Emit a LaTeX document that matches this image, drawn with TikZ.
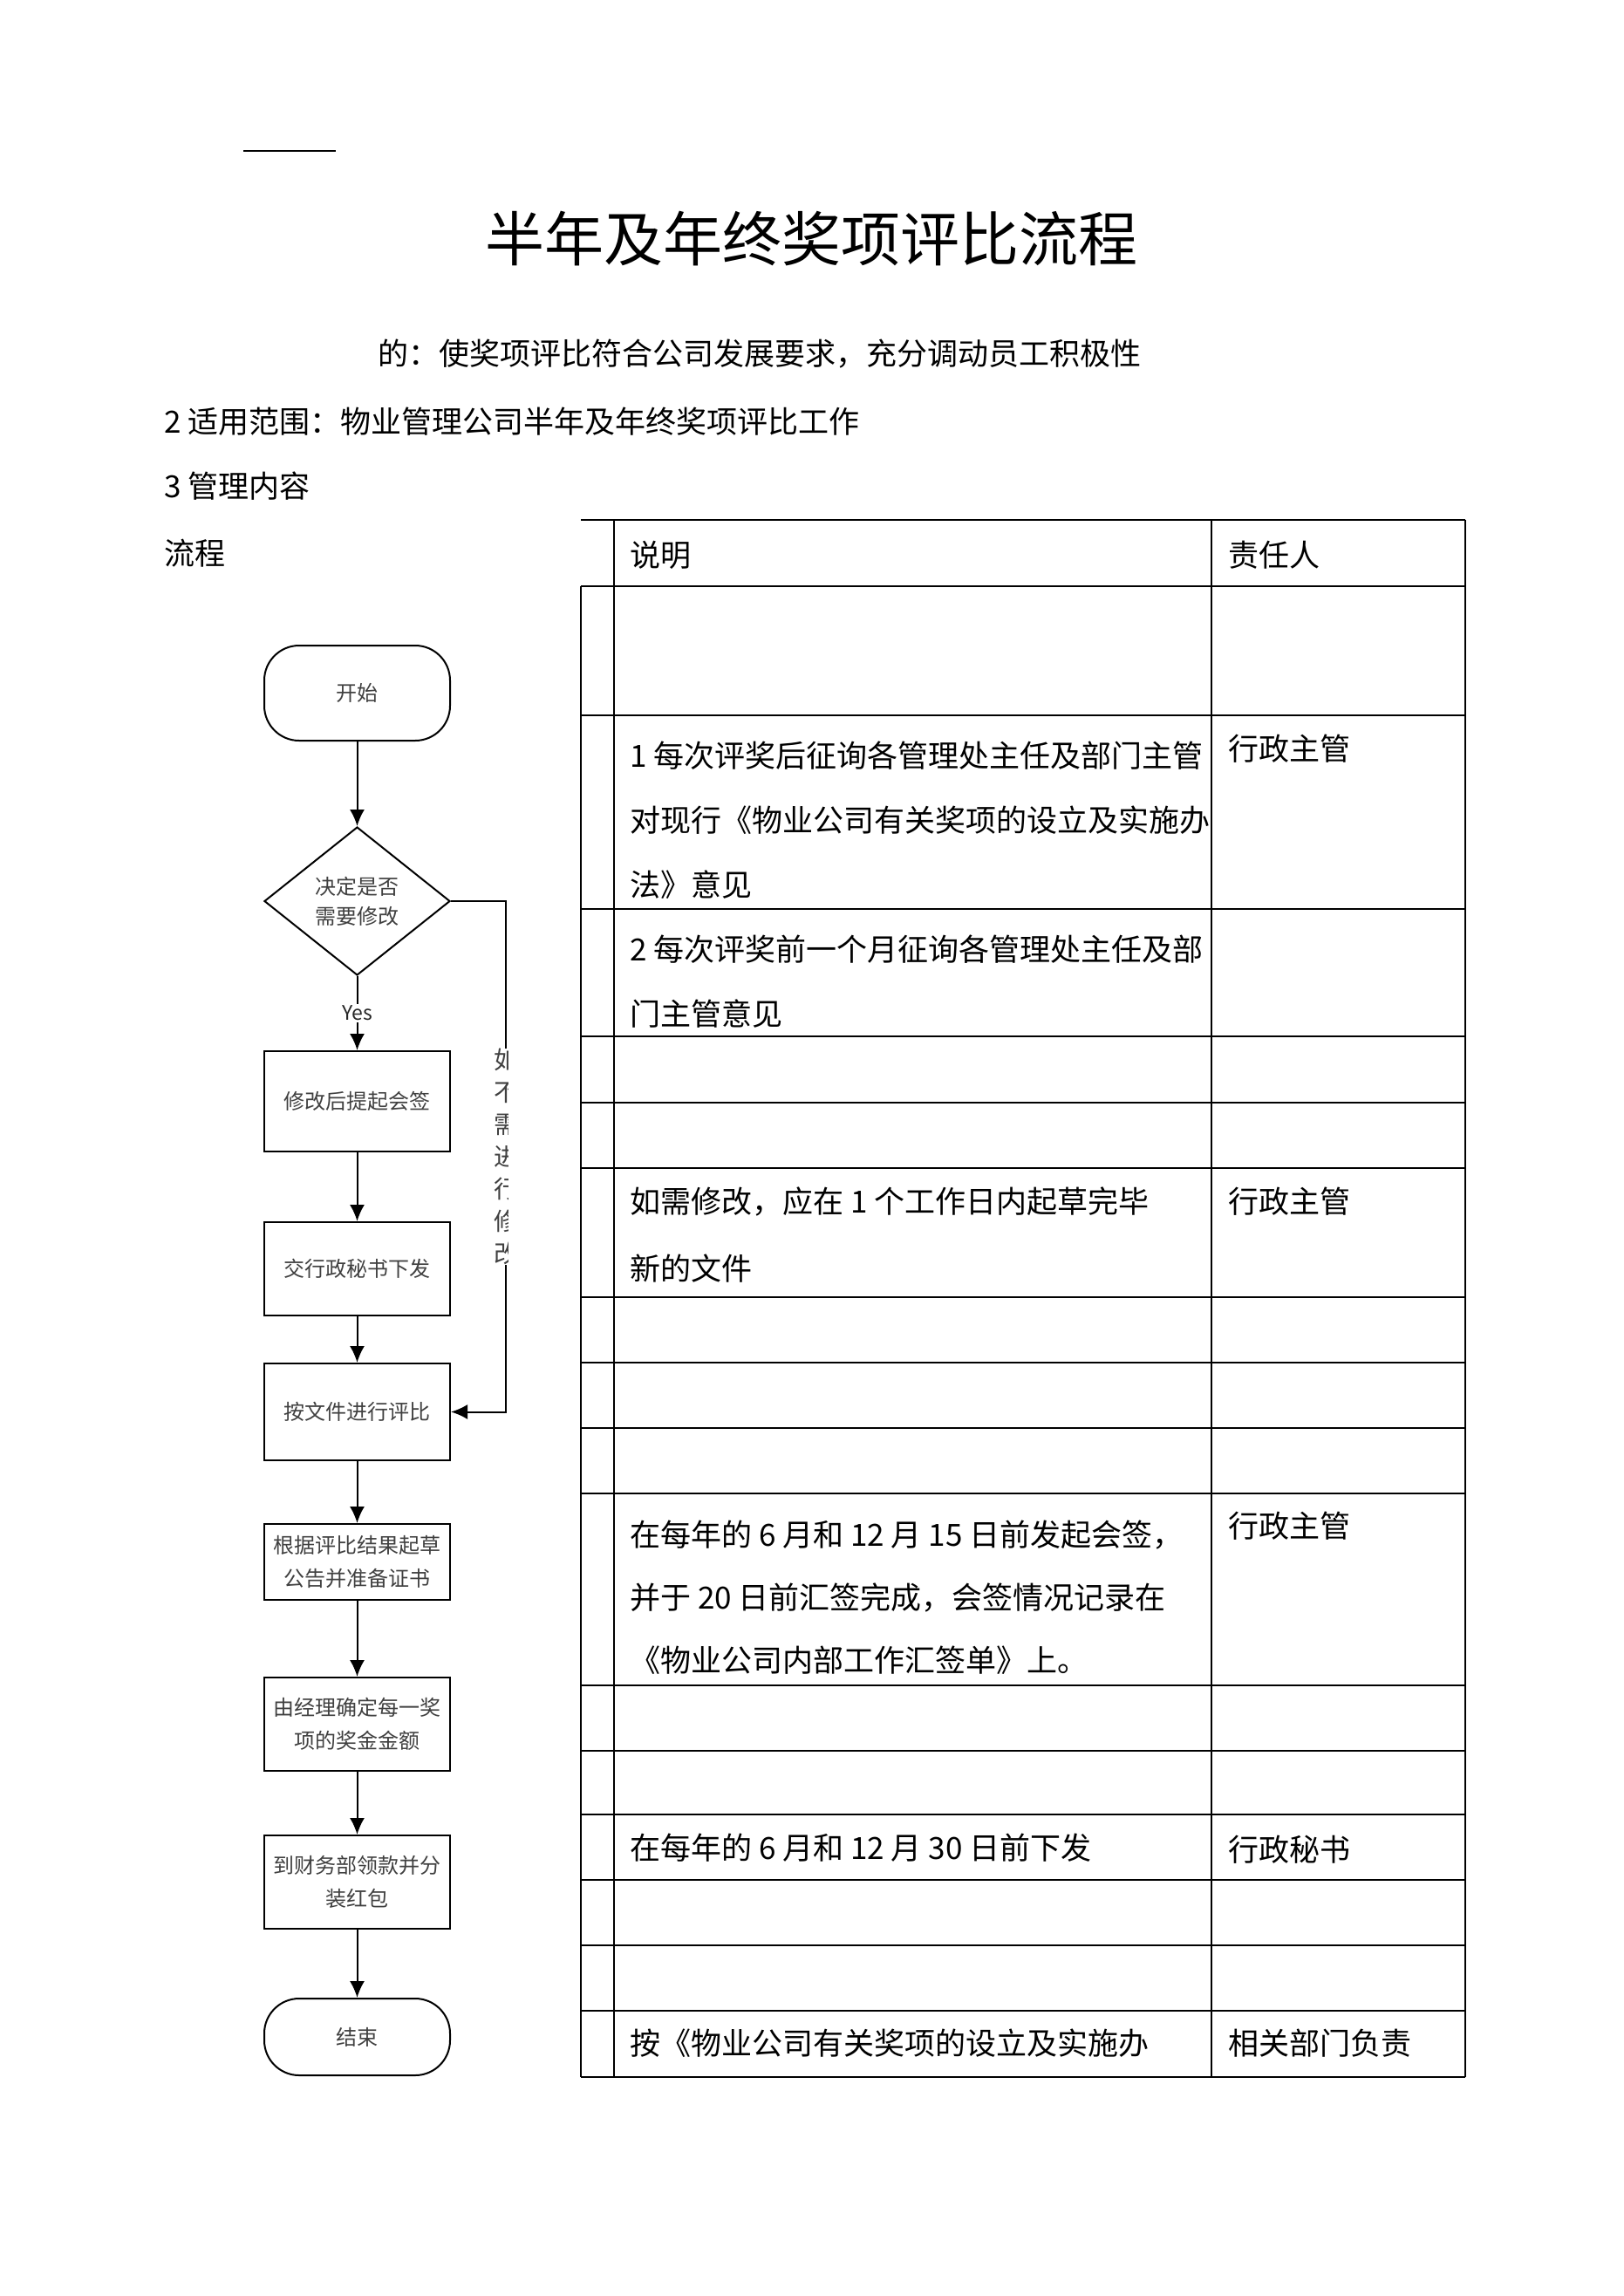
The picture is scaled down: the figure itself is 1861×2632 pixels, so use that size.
\documentclass[tikz,border=0pt]{standalone}
\usepackage{fontspec}
\setmainfont{Noto Sans CJK SC}
\usetikzlibrary{arrows.meta,shapes.geometric}
\begin{document}
\begin{tikzpicture}[x=1pt,y=-1pt,
  tline/.style={line width=1.8pt},
  fcbox/.style={draw, line width=2pt, minimum width=213pt, inner sep=0pt, align=center, text=black!75, font=\fontsize{24}{38}\selectfont},
  term/.style={fcbox, rounded corners=40pt},
  decbox/.style={fcbox, shape=diamond, minimum height=170pt, font=\fontsize{24}{34}\selectfont},
  arr/.style={line width=2pt, -{Latex[length=19pt,width=17pt]}},
  body/.style={anchor=west, inner sep=0pt, font=\fontsize{35}{35}\selectfont},
]
\fill[white] (0,0) rectangle (1861,2632);
\useasboundingbox (0,0) rectangle (1861,2632);

% header line and texts
\draw[line width=1.5pt] (279,173) -- (385,173);
\node[inner sep=0pt, font=\fontsize{68}{68}\selectfont] (title) at (930,274) {半年及年终奖项评比流程};
\node[body] (purpose) at (433,406) {的：使奖项评比符合公司发展要求，充分调动员工积极性};
\node[body] (scope2) at (188,483) {2 适用范围：物业管理公司半年及年终奖项评比工作};
\node[body] (s3) at (188,557) {3 管理内容};
\node[body] (lc) at (188,634) {流程};

% table
\foreach \yy in {596,672,820,1042,1188,1264,1339,1487,1562,1637,1712,1932,2007,2080,2155,2230,2305,2381}
  \draw[tline] (666,\yy) -- (1680,\yy);
\draw[tline] (666,672) -- (666,2381);
\draw[tline] (704,596) -- (704,2381);
\draw[tline] (1389,596) -- (1389,2381);
\draw[tline] (1680,596) -- (1680,2381);

\node[body] (h1) at (722,636) {说明};
\node[body] (h2) at (1408,636) {责任人};
\node[body] (r3a) at (722,866) {1 每次评奖后征询各管理处主任及部门主管};
\node[body] (r3b) at (722,940) {对现行《物业公司有关奖项的设立及实施办};
\node[body] (r3c) at (722,1014) {法》意见};
\node[body] (r3p) at (1408,858) {行政主管};
\node[body] (r4a) at (722,1088) {2 每次评奖前一个月征询各管理处主任及部};
\node[body] (r4b) at (722,1162) {门主管意见};
\node[body] (r7a) at (722,1377) {如需修改，应在 1 个工作日内起草完毕};
\node[body] (r7b) at (722,1454) {新的文件};
\node[body] (r7p) at (1408,1377) {行政主管};
\node[body] (r11a) at (722,1760) {在每年的 6 月和 12 月 15 日前发起会签，};
\node[body] (r11b) at (722,1831) {并于 20 日前汇签完成，会签情况记录在};
\node[body] (r11c) at (722,1903) {《物业公司内部工作汇签单》上。};
\node[body] (r11p) at (1408,1749) {行政主管};
\node[body] (r14a) at (722,2118) {在每年的 6 月和 12 月 30 日前下发};
\node[body] (r14p) at (1408,2120) {行政秘书};
\node[body] (r17a) at (722,2342) {按《物业公司有关奖项的设立及实施办};
\node[body] (r17p) at (1408,2342) {相关部门负责};

% flowchart
\node[term, minimum height=109pt] (start) at (409.5,794.5) {开始};
\node[decbox] (dec) at (409.5,1033) {决定是否\\需要修改};
\node[fcbox, minimum height=115pt] (b1) at (409.5,1262.5) {修改后提起会签};
\node[fcbox, minimum height=107pt] (b2) at (409.5,1454.5) {交行政秘书下发};
\node[fcbox, minimum height=111pt] (b3) at (409.5,1618.5) {按文件进行评比};
\node[fcbox, minimum height=87pt] (b4) at (409.5,1790.5) {根据评比结果起草\\公告并准备证书};
\node[fcbox, minimum height=107pt] (b5) at (409.5,1976.5) {由经理确定每一奖\\项的奖金金额};
\node[fcbox, minimum height=107pt] (b6) at (409.5,2157.5) {到财务部领款并分\\装红包};
\node[term, minimum height=88pt] (end) at (409.5,2335) {结束};

\draw[arr] (start.south) -- (dec.north);
\draw[arr] (dec.south) -- node[fill=white, inner sep=2pt, text=black!85, font=\fontsize{23}{23}\selectfont] (yes) {Yes} (b1.north);
\draw[arr] (b1.south) -- (b2.north);
\draw[arr] (b2.south) -- (b3.north);
\draw[arr] (b3.south) -- (b4.north);
\draw[arr] (b4.south) -- (b5.north);
\draw[arr] (b5.south) -- (b6.north);
\draw[arr] (b6.south) -- (end.north);

\coordinate (rc1) at (580,1033);
\coordinate (rc2) at (580,1618.5);
\draw[arr] (dec.east) -- (rc1) -- (rc2) -- (b3.east);

\begin{scope}
  \clip (540,1150) rectangle (582,1500);
  \node[fill=white, inner sep=0pt, text width=28pt, align=center, text=black!75, font=\fontsize{28}{37}\selectfont] (vt) at (580,1326) {如\\不\\需\\进\\行\\修\\改};
\end{scope}
\end{tikzpicture}
\end{document}
